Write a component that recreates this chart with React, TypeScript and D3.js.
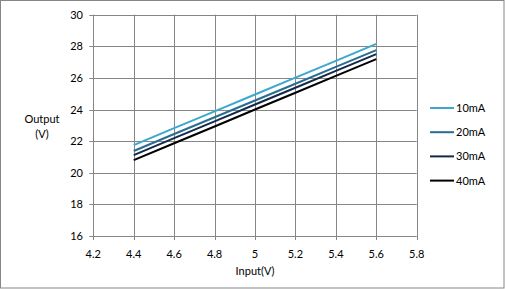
import React from "react";
import * as d3 from "d3";

const inputs = [4.4, 4.6, 4.8, 5.0, 5.2, 5.4, 5.6];
const series10 = [21.75, 22.82, 23.88, 24.95, 26.02, 27.08, 28.15];
const series20 = [21.38, 22.45, 23.51, 24.57, 25.63, 26.70, 27.76];
const series30 = [21.12, 22.19, 23.25, 24.32, 25.38, 26.45, 27.51];
const series40 = [20.8, 21.87, 22.93, 24.0, 25.06, 26.13, 27.19];
const seriesNames = ["10mA", "20mA", "30mA", "40mA"];
const xTicks = [4.2, 4.4, 4.6, 4.8, 5.0, 5.2, 5.4, 5.6, 5.8];
const yTicks = [16, 18, 20, 22, 24, 26, 28, 30];

const colors = ["#3CA8CE", "#2A6D93", "#15294A", "#000000"];
const FONT = "Lato, 'Open Sans', sans-serif";

export default function App() {
  const W = 505, H = 289;
  const x = d3.scaleLinear().domain([4.2, 5.8]).range([93.3, 416.7]);
  const y = d3.scaleLinear().domain([16, 30]).range([236, 14.7]);
  const allSeries = [series10, series20, series30, series40];
  const line = d3
    .line<number>()
    .x((_, i) => x(inputs[i]))
    .y((d) => y(d));
  const grid = "#868686";
  const fmt = (v: number) => (Number.isInteger(v) ? String(v) : String(+v.toFixed(1)));
  return (
    <svg
      width={W}
      height={H}
      style={{ position: "absolute", left: 0, top: 0, background: "#fff" }}
    >
      <rect x={0.5} y={0.5} width={W - 1.5} height={H - 1.5} fill="#fff" stroke={grid} strokeWidth={1} />
      {/* horizontal gridlines */}
      {yTicks.map((t) => (
        <line key={"gy" + t} x1={x(4.2) - 4} x2={x(5.8)} y1={Math.round(y(t)) + 0.5} y2={Math.round(y(t)) + 0.5} stroke={grid} strokeWidth={1} />
      ))}
      {xTicks.map((t) => (
        <line key={"gx" + t} x1={Math.round(x(t)) + 0.5} x2={Math.round(x(t)) + 0.5} y1={y(30)} y2={y(16) + 4} stroke={grid} strokeWidth={1} />
      ))}
      {yTicks.map((t) => (
        <text key={"ty" + t} x={83} y={y(t) + 4} textAnchor="end" fontFamily={FONT} fontSize={11} fill="#000">
          {t}
        </text>
      ))}
      {xTicks.map((t) => (
        <text key={"tx" + t} x={x(t)} y={257.5} textAnchor="middle" fontFamily={FONT} fontSize={11} fill="#000">
          {fmt(t)}
        </text>
      ))}
      <text x={255} y={275} textAnchor="middle" fontFamily={FONT} fontSize={11} fill="#000">
        Input(V)
      </text>
      <text x={42} y={123} textAnchor="middle" fontFamily={FONT} fontSize={11} fill="#000">
        Output
      </text>
      <text x={42} y={138} textAnchor="middle" fontFamily={FONT} fontSize={11} fill="#000">
        (V)
      </text>
      {allSeries.map((s, i) => (
        <path key={"s" + i} d={line(s) || ""} fill="none" stroke={colors[i]} strokeWidth={2} />
      ))}
      {seriesNames.map((n, i) => {
        const ly = 108 + i * 24.2;
        return (
          <g key={"lg" + n}>
            <line x1={430} x2={454} y1={ly} y2={ly} stroke={colors[i]} strokeWidth={2} />
            <text x={456} y={ly + 4} fontFamily={FONT} fontSize={11} fill="#000">
              {n}
            </text>
          </g>
        );
      })}
    </svg>
  );
}
